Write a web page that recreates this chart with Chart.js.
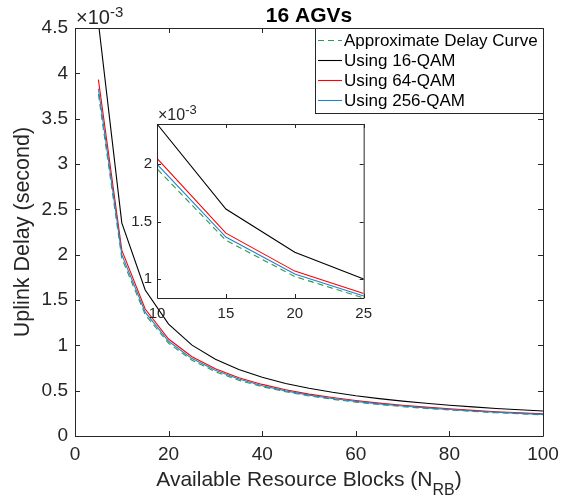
<!DOCTYPE html>
<html>
<head>
<meta charset="utf-8">
<script src="https://cdn.jsdelivr.net/npm/chart.js@4"></script>
<style>
  html, body { margin: 0; padding: 0; background: #fff; }
  #wrap { position: relative; width: 574px; height: 499px; }
  #main { position: absolute; left: 0; top: 0; }
  #inset { position: absolute; left: 117px; top: 100px; }
</style>
</head>
<body>
<div id="wrap">
  <canvas id="main" width="574" height="499"></canvas>
  <canvas id="inset" width="262" height="230"></canvas>
</div>
<script>
// number of resource blocks
const rbs = [5, 10, 15, 20, 25, 30, 35, 40, 45, 50, 55, 60, 65, 70, 75, 80, 85, 90, 95, 100];
// uplink delay, in units of 1e-3 s
const approxDelay = [3.77, 1.96, 1.338, 1.023, 0.836, 0.709, 0.615, 0.544, 0.488, 0.442, 0.405, 0.374, 0.347, 0.324, 0.304, 0.287, 0.271, 0.256, 0.245, 0.233];
const delay16qam = [4.56, 2.35, 1.61, 1.234, 1.002, 0.846, 0.733, 0.647, 0.58, 0.526, 0.482, 0.444, 0.412, 0.385, 0.361, 0.34, 0.321, 0.304, 0.29, 0.276];
const delay64qam = [3.93, 2.05, 1.4, 1.07, 0.875, 0.742, 0.643, 0.569, 0.51, 0.462, 0.424, 0.391, 0.363, 0.339, 0.318, 0.3, 0.283, 0.268, 0.256, 0.244];
const delay256qam = [3.83, 2.0, 1.366, 1.045, 0.854, 0.724, 0.628, 0.555, 0.498, 0.451, 0.414, 0.382, 0.354, 0.331, 0.31, 0.293, 0.276, 0.262, 0.25, 0.238];
const seriesNames = ["Approximate Delay Curve", "Using 16-QAM", "Using 64-QAM", "Using 256-QAM"];

const mainXTicks = [0, 20, 40, 60, 80, 100];
const mainYTicks = [0, 0.5, 1, 1.5, 2, 2.5, 3, 3.5, 4, 4.5];
const insetXTicks = [10, 15, 20, 25];
const insetYTicks = [1, 1.5, 2];

const FONT = '"Liberation Sans", Arial, Helvetica, sans-serif';
const axisColor = "#262626";
Chart.defaults.font.family = FONT;

function makeDatasets() {
  const series = [approxDelay, delay16qam, delay64qam, delay256qam];
  const colors = ["#2e9a52", "#000000", "#ff0000", "#1f84cc"];
  const dashes = [[6, 4], [], [], []];
  return series.map((values, i) => ({
    label: seriesNames[i],
    data: rbs.map((x, j) => ({ x: x, y: values[j] })),
    borderColor: colors[i],
    borderDash: dashes[i],
    borderWidth: 1.1,
    pointRadius: 0,
    tension: 0,
    fill: false,
    order: 3 - i,
  }));
}

// box round the axes, ticks pointing inwards, white background
const axesBox = {
  id: "axesBox",
  beforeDatasetsDraw(chart, args, opts) {
    if (!opts.fill) return;
    const { ctx, chartArea: a } = chart;
    ctx.save();
    ctx.fillStyle = "#ffffff";
    ctx.fillRect(a.left, a.top, a.right - a.left, a.bottom - a.top);
    ctx.restore();
  },
  afterDatasetsDraw(chart, args, opts) {
    const { ctx, chartArea: a, scales } = chart;
    const len = opts.tickLength || 5;
    ctx.save();
    ctx.strokeStyle = axisColor;
    ctx.lineWidth = 1;
    ctx.beginPath();
    ctx.rect(a.left + 0.5, a.top + 0.5, a.right - a.left, a.bottom - a.top);
    scales.x.ticks.forEach((t) => {
      const px = Math.round(scales.x.getPixelForValue(t.value)) + 0.5;
      ctx.moveTo(px, a.bottom);
      ctx.lineTo(px, a.bottom - len);
      ctx.moveTo(px, a.top);
      ctx.lineTo(px, a.top + len);
    });
    scales.y.ticks.forEach((t) => {
      const py = Math.round(scales.y.getPixelForValue(t.value)) + 0.5;
      ctx.moveTo(a.left, py);
      ctx.lineTo(a.left + len, py);
      ctx.moveTo(a.right, py);
      ctx.lineTo(a.right - len, py);
    });
    ctx.stroke();
    ctx.restore();
  },
};

// title, x10^-3 label, axis titles (x one with subscript), boxed legend
const annotations = {
  id: "annotations",
  afterDraw(chart, args, opts) {
    const { ctx, chartArea: a } = chart;
    ctx.save();
    ctx.textBaseline = "alphabetic";

    if (opts.exponent) {
      const e = opts.exponent;
      ctx.fillStyle = axisColor;
      ctx.textAlign = "left";
      ctx.font = `${e.size}px ${FONT}`;
      const base = "\u00d710";
      ctx.fillText(base, a.left + 1, a.top - e.gap);
      const w = ctx.measureText(base).width;
      ctx.font = `${e.supSize}px ${FONT}`;
      ctx.fillText("-3", a.left + 1 + w, a.top - e.gap - e.rise);
    }

    if (opts.title) {
      ctx.fillStyle = "#000";
      ctx.textAlign = "center";
      ctx.font = `bold 21px ${FONT}`;
      ctx.fillText(opts.title, (a.left + a.right) / 2, a.top - 6);
    }

    if (opts.yTitle) {
      ctx.save();
      ctx.fillStyle = axisColor;
      ctx.font = `21.5px ${FONT}`;
      ctx.textAlign = "center";
      ctx.translate(a.left - 46, (a.top + a.bottom) / 2);
      ctx.rotate(-Math.PI / 2);
      ctx.fillText(opts.yTitle, 0, 0);
      ctx.restore();
    }

    if (opts.xTitle) {
      const [head, sub, tail] = opts.xTitle;
      ctx.fillStyle = axisColor;
      ctx.textAlign = "left";
      ctx.font = `21px ${FONT}`;
      const w1 = ctx.measureText(head).width;
      const w3 = ctx.measureText(tail).width;
      ctx.font = `16px ${FONT}`;
      const w2 = ctx.measureText(sub).width;
      let x = (a.left + a.right) / 2 - (w1 + w2 + w3) / 2;
      const y = a.bottom + 50;
      ctx.font = `21px ${FONT}`;
      ctx.fillText(head, x, y);
      x += w1;
      ctx.font = `16px ${FONT}`;
      ctx.fillText(sub, x, y + 9);
      x += w2;
      ctx.font = `21px ${FONT}`;
      ctx.fillText(tail, x, y);
    }

    if (opts.legend) {
      const sets = chart.data.datasets;
      ctx.font = `17px ${FONT}`;
      const textW = Math.max(...sets.map((d) => ctx.measureText(d.label).width));
      const boxW = Math.round(3 + 24 + 2 + textW + 5);
      const left = a.right - boxW;
      const top = a.top;
      const boxH = 85;
      ctx.fillStyle = "#fff";
      ctx.fillRect(left, top, boxW, boxH);
      ctx.strokeStyle = axisColor;
      ctx.lineWidth = 1;
      ctx.strokeRect(left + 0.5, top + 0.5, boxW, boxH);
      sets.forEach((d, i) => {
        const cy = top + 12.5 + i * 20;
        ctx.strokeStyle = d.borderColor;
        ctx.lineWidth = 1.1;
        ctx.setLineDash(d.borderDash || []);
        ctx.beginPath();
        ctx.moveTo(left + 3, cy);
        ctx.lineTo(left + 27, cy);
        ctx.stroke();
        ctx.setLineDash([]);
        ctx.fillStyle = "#000";
        ctx.textAlign = "left";
        ctx.textBaseline = "middle";
        ctx.fillText(d.label, left + 29, cy + 1);
      });
    }
    ctx.restore();
  },
};

document.addEventListener("DOMContentLoaded", () => {
  new Chart(document.getElementById("main"), {
    type: "line",
    data: { datasets: makeDatasets() },
    options: {
      responsive: false,
      animation: false,
      layout: { padding: { top: 28, right: 31, bottom: 0, left: 0 } },
      plugins: {
        legend: { display: false },
        tooltip: { enabled: false },
        axesBox: { tickLength: 5 },
        annotations: {
          title: "16 AGVs",
          exponent: { size: 20, supSize: 15, gap: 4, rise: 7 },
          yTitle: "Uplink Delay (second)",
          xTitle: ["Available Resource Blocks (N", "RB", ")"],
          legend: true,
        },
      },
      scales: {
        x: {
          type: "linear",
          min: 0,
          max: 100,
          afterBuildTicks: (s) => { s.ticks = mainXTicks.map((v) => ({ value: v })); },
          afterFit: (s) => { s.height = 63; },
          grid: { display: false, drawTicks: false },
          border: { display: false },
          ticks: { color: axisColor, font: { size: 19 }, padding: 7, maxRotation: 0, callback: (v) => String(v) },
        },
        y: {
          min: 0,
          max: 4.5,
          afterBuildTicks: (s) => { s.ticks = mainYTicks.map((v) => ({ value: v })); },
          afterFit: (s) => { s.width = 75; },
          grid: { display: false, drawTicks: false },
          border: { display: false },
          ticks: { color: axisColor, font: { size: 19 }, padding: 7, callback: (v) => String(v) },
        },
      },
    },
    plugins: [axesBox, annotations],
  });

  new Chart(document.getElementById("inset"), {
    type: "line",
    data: { datasets: makeDatasets() },
    options: {
      responsive: false,
      animation: false,
      layout: { padding: { top: 24, right: 10, bottom: 0, left: 0 } },
      plugins: {
        legend: { display: false },
        tooltip: { enabled: false },
        axesBox: { fill: true, tickLength: 4 },
        annotations: {
          exponent: { size: 16, supSize: 13, gap: 4, rise: 6 },
        },
      },
      scales: {
        x: {
          type: "linear",
          min: 10,
          max: 25,
          afterBuildTicks: (s) => { s.ticks = insetXTicks.map((v) => ({ value: v })); },
          afterFit: (s) => { s.height = 32; },
          grid: { display: false, drawTicks: false },
          border: { display: false },
          ticks: { color: axisColor, font: { size: 15 }, padding: 7, maxRotation: 0, callback: (v) => String(v) },
        },
        y: {
          min: 0.836,
          max: 2.35,
          afterBuildTicks: (s) => { s.ticks = insetYTicks.map((v) => ({ value: v })); },
          afterFit: (s) => { s.width = 40; },
          grid: { display: false, drawTicks: false },
          border: { display: false },
          ticks: { color: axisColor, font: { size: 15 }, padding: 5, callback: (v) => String(v) },
        },
      },
    },
    plugins: [axesBox, annotations],
  });
});
</script>
</body>
</html>
